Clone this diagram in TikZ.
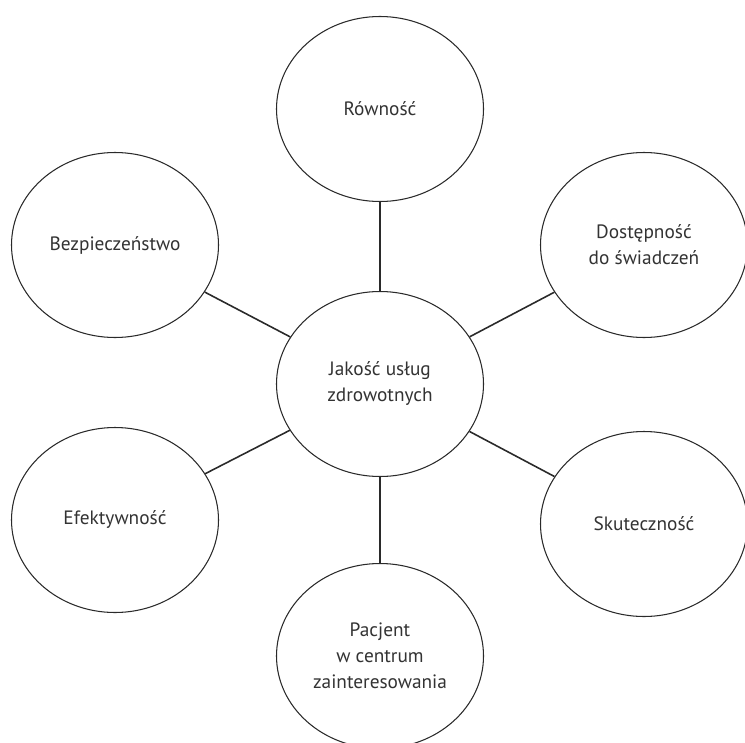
\documentclass[tikz,border=0pt]{standalone}
\usepackage{fontspec}
\setmainfont{PT Sans}
\usepackage{tikz}
\usetikzlibrary{shapes.geometric}
\definecolor{inkgrey}{HTML}{333333}
\definecolor{linegrey}{HTML}{2A2A2A}

\begin{document}
\begin{tikzpicture}[
  font=\fontsize{11}{14.8}\selectfont,
  oval/.style={ellipse,draw=linegrey,line width=0.6pt,fill=white,minimum width=4.14cm,minimum height=3.7cm,inner sep=0pt,align=center,text=inkgrey},
  spoke/.style={line width=0.9pt,linegrey},
]
\useasboundingbox (0,0) rectangle (14.9,-14.84);
% centre
\node[oval] (jakosc) at (7.6,-7.68) {Jakość usług\\zdrowotnych};

% outer ring
\node[oval] (rownosc)   at (7.6,-2.18)   {Równość};
\node[oval] (bezp)      at (2.3,-4.9)    {Bezpieczeństwo};
\node[oval] (dostep)    at (12.88,-4.9)  {Dostępność\\do świadczeń};
\node[oval] (efekt)     at (2.3,-10.4)   {Efektywność};
\node[oval] (skut)      at (12.88,-10.48){Skuteczność};
\node[oval] (pacjent)   at (7.6,-13.12)  {Pacjent\\w centrum\\zainteresowania};

% spokes
\draw[spoke] (jakosc) -- (rownosc);
\draw[spoke] (jakosc) -- (bezp);
\draw[spoke] (jakosc) -- (dostep);
\draw[spoke] (jakosc) -- (efekt);
\draw[spoke] (jakosc) -- (skut);
\draw[spoke] (jakosc) -- (pacjent);
\end{tikzpicture}
\end{document}
